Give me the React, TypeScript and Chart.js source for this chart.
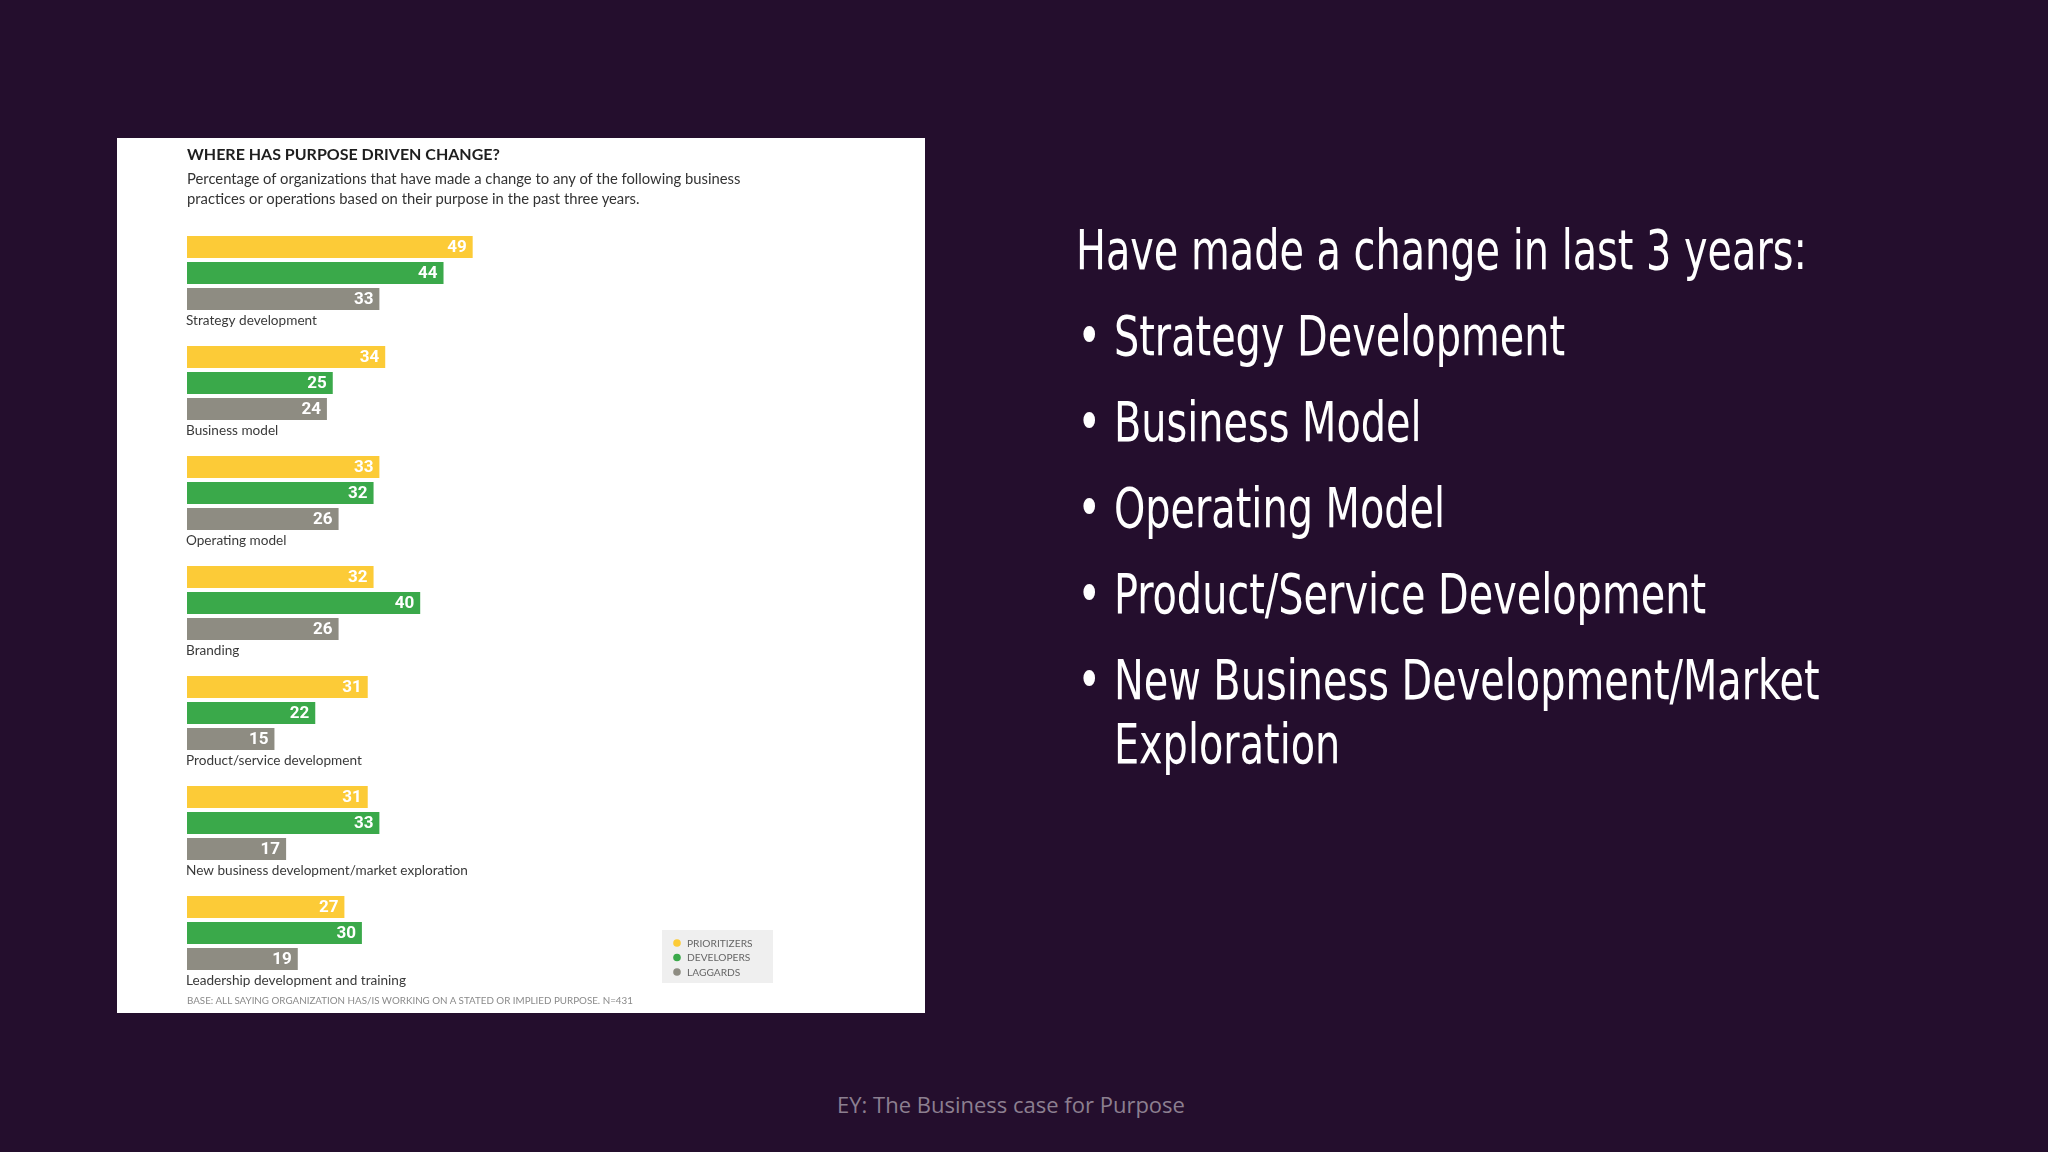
import React, { useEffect, useRef } from "react";
import { Chart, registerables } from "chart.js";

Chart.register(...registerables);

const categories = [
  "Strategy development",
  "Business model",
  "Operating model",
  "Branding",
  "Product/service development",
  "New business development/market exploration",
  "Leadership development and training",
];
const seriesNames = ["PRIORITIZERS", "DEVELOPERS", "LAGGARDS"];
const prioritizers = [49, 34, 33, 32, 31, 31, 27];
const developers = [44, 25, 32, 40, 22, 33, 30];
const laggards = [33, 24, 26, 26, 15, 17, 19];
const seriesColors = ["#fccb37", "#3aa94a", "#8e8c82"];

const bullets = [
  "Strategy Development",
  "Business Model",
  "Operating Model",
  "Product/Service Development",
  ["New Business Development/Market", "Exploration"],
];

const labelsPlugin = {
  id: "hbrLabels",
  afterDatasetsDraw(chart: any) {
    const ctx = chart.ctx;
    ctx.save();
    // value labels
    ctx.font = "bold 17px Roboto";
    ctx.fillStyle = "#ffffff";
    ctx.textAlign = "right";
    ctx.textBaseline = "middle";
    chart.data.datasets.forEach((ds: any, di: number) => {
      const meta = chart.getDatasetMeta(di);
      meta.data.forEach((el: any, i: number) => {
        ctx.fillText(String(ds.data[i]), el.x - 6, el.y + 1);
      });
    });
    // category labels below each group
    const yScale = chart.scales.y;
    ctx.font = "13.6px Lato";
    ctx.fillStyle = "#3a3a3a";
    ctx.textAlign = "left";
    chart.data.labels.forEach((lab: string, i: number) => {
      const y = yScale.getPixelForValue(i);
      ctx.fillText(lab, chart.chartArea.left - 1, y + 48);
    });
    // legend box
    const bx = 545, by = 792;
    ctx.fillStyle = "#efefef";
    ctx.fillRect(bx, by, 111, 53);
    ctx.font = "10.2px Lato";
    chart.data.datasets.forEach((ds: any, di: number) => {
      const yy = by + 13 + di * 14.5;
      ctx.fillStyle = ds.backgroundColor;
      ctx.beginPath();
      ctx.arc(bx + 15, yy, 3.8, 0, Math.PI * 2);
      ctx.fill();
      ctx.fillStyle = "#666666";
      ctx.fillText(ds.label, bx + 25, yy + 0.5);
    });
    ctx.restore();
  },
};

function HbrChart() {
  const ref = useRef<HTMLCanvasElement | null>(null);
  useEffect(() => {
    if (!ref.current) return;
    const chart = new Chart(ref.current, {
      type: "bar",
      data: {
        labels: categories,
        datasets: [
          { label: seriesNames[0], data: prioritizers, backgroundColor: seriesColors[0] },
          { label: seriesNames[1], data: developers, backgroundColor: seriesColors[1] },
          { label: seriesNames[2], data: laggards, backgroundColor: seriesColors[2] },
        ],
      },
      options: {
        indexAxis: "y",
        animation: false,
        responsive: false,
        maintainAspectRatio: false,
        devicePixelRatio: 1,
        layout: { padding: { left: 70, right: 155, top: 80, bottom: 25 } },
        datasets: { bar: { categoryPercentage: 0.709, barPercentage: 0.846, borderWidth: 0 } },
        scales: {
          x: { display: false, min: 0, max: 100 },
          y: { display: false },
        },
        plugins: {
          legend: { display: false },
          tooltip: { enabled: false },
        },
      } as any,
      plugins: [labelsPlugin],
    });
    return () => chart.destroy();
  }, []);
  return (
    <canvas
      ref={ref}
      width={808}
      height={875}
      style={{ position: "absolute", left: 0, top: 0, width: 808, height: 875 }}
    />
  );
}

export default function App() {
  const slideFont = '"Liberation Sans Narrow", "DejaVu Sans Condensed", "Roboto", sans-serif';
  return (
    <div
      style={{
        position: "fixed",
        left: 0,
        top: 0,
        width: 2048,
        height: 1152,
        background: "#240e2d",
        overflow: "hidden",
      }}
    >
      <div
        style={{
          position: "absolute",
          left: 117,
          top: 138,
          width: 808,
          height: 875,
          background: "#ffffff",
        }}
      >
        <HbrChart />
        <div
          style={{
            position: "absolute",
            left: 70,
            top: 7,
            font: "bold 16px Lato",
            lineHeight: "18px",
            color: "#1e1e1e",
            whiteSpace: "nowrap",
          }}
        >
          WHERE HAS PURPOSE DRIVEN CHANGE?
        </div>
        <div
          style={{
            position: "absolute",
            left: 70,
            top: 31,
            font: "14.8px Lato",
            lineHeight: "19.5px",
            color: "#333333",
            whiteSpace: "nowrap",
          }}
        >
          Percentage of organizations that have made a change to any of the following business
          <br />
          practices or operations based on their purpose in the past three years.
        </div>
        <div
          style={{
            position: "absolute",
            left: 70,
            top: 856,
            font: "9.8px Lato",
            lineHeight: "12px",
            color: "#8a8a8a",
            whiteSpace: "nowrap",
          }}
        >
          BASE: ALL SAYING ORGANIZATION HAS/IS WORKING ON A STATED OR IMPLIED PURPOSE. N=431
        </div>
      </div>

      <div
        style={{
          position: "absolute",
          left: 1076,
          top: 218,
          width: 1100,
          fontFamily: slideFont,
          fontSize: 56,
          lineHeight: "64px",
          color: "#ffffff",
          transform: "scaleX(0.79)",
          transformOrigin: "0 0",
        }}
      >
        <div style={{ marginBottom: 22, whiteSpace: "nowrap" }}>Have made a change in last 3 years:</div>
        {bullets.map((b, i) => (
          <div key={i} style={{ position: "relative", paddingLeft: 48, marginBottom: 22, whiteSpace: "nowrap" }}>
            <span style={{ position: "absolute", left: 2, top: 0 }}>•</span>
            {Array.isArray(b) ? (
              <>
                {b[0]}
                <br />
                {b[1]}
              </>
            ) : (
              b
            )}
          </div>
        ))}
      </div>

      <div
        style={{
          position: "absolute",
          left: 0,
          width: 2022,
          top: 1090,
          textAlign: "center",
          font: "22px 'Open Sans'",
          lineHeight: "28px",
          color: "#8c7f90",
        }}
      >
        EY: The Business case for Purpose
      </div>
    </div>
  );
}
